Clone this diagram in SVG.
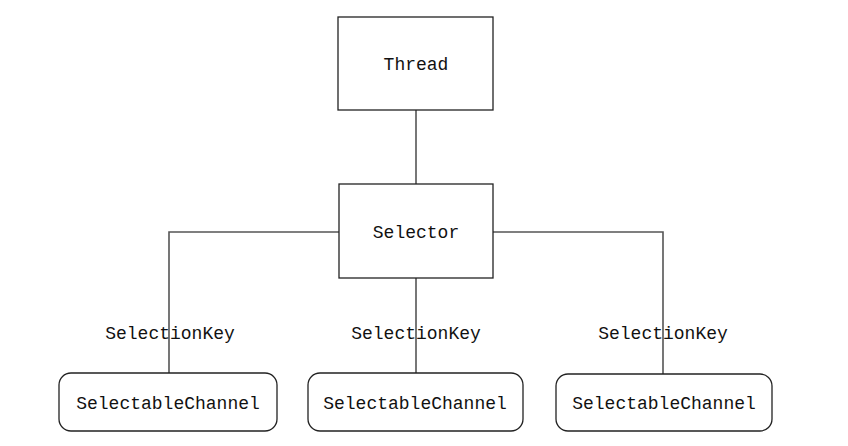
<svg xmlns="http://www.w3.org/2000/svg" width="848" height="446" viewBox="0 0 848 446">
<style>
.box{fill:#fff;stroke:#222;stroke-width:1.3}
.ln{fill:none;stroke:#555;stroke-width:1.6}
text{font-family:"Liberation Mono","DejaVu Sans Mono",monospace;font-size:18px;fill:#111;text-anchor:middle}
</style>
<rect width="848" height="446" fill="#fff"/>
<g id="connectors">
<line class="ln" x1="416" y1="110" x2="416" y2="184"/>
<polyline class="ln" points="339,232 169,232 169,373"/>
<polyline class="ln" points="493,232 663,232 663,374"/>
<line class="ln" x1="416" y1="278" x2="416" y2="373"/>
<text x="170" y="339">SelectionKey</text>
<text x="416" y="339">SelectionKey</text>
<text x="663" y="339">SelectionKey</text>
</g>
<g id="thread"><rect class="box" x="338" y="17" width="155" height="93"/><text x="416" y="70">Thread</text></g>
<g id="selector"><rect class="box" x="339" y="184" width="154" height="94"/><text x="416" y="238">Selector</text></g>
<g id="channel1"><rect class="box" x="59" y="373" width="218" height="58" rx="12"/><text x="168" y="409">SelectableChannel</text></g>
<g id="channel2"><rect class="box" x="308" y="373" width="215" height="58" rx="12"/><text x="415" y="409">SelectableChannel</text></g>
<g id="channel3"><rect class="box" x="556" y="374" width="216" height="57" rx="12"/><text x="664" y="409">SelectableChannel</text></g>
</svg>
